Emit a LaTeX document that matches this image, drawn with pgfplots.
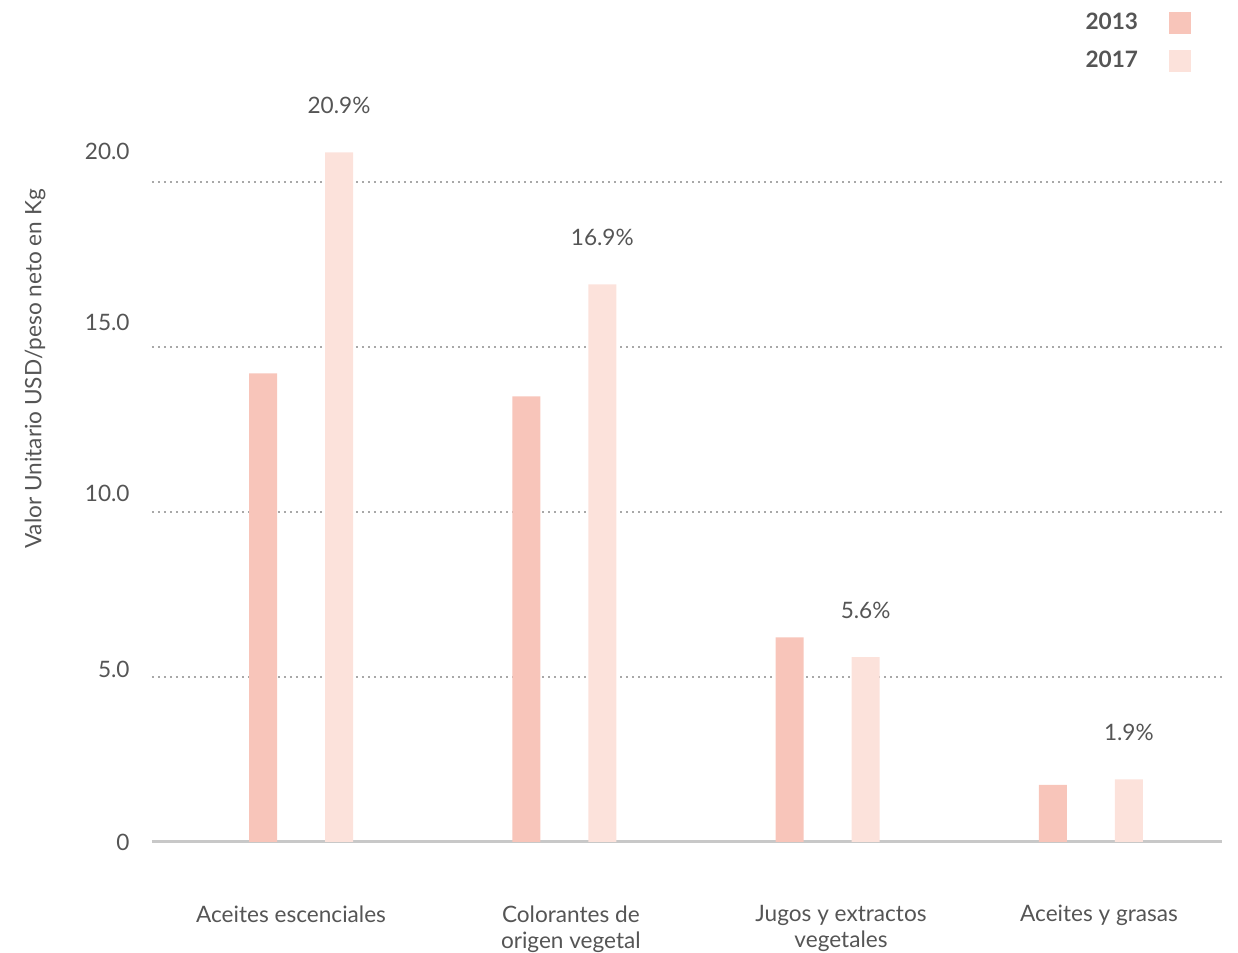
\documentclass[border=0pt]{standalone}
\usepackage{fontspec}
\setmainfont{Lato}
\usepackage{pgfplots}
\pgfplotsset{compat=1.18}

\definecolor{bar13}{HTML}{F8C5BA}
\definecolor{bar17}{HTML}{FCE2DB}
\definecolor{txt}{HTML}{555555}
\definecolor{gridc}{HTML}{A8A8A8}
\definecolor{basec}{HTML}{C8C8C8}

\newcommand{\lbl}{\fontsize{11.3}{13}\selectfont}

\begin{document}
\begin{tikzpicture}
\begin{axis}[
  scale only axis,
  width=535pt, height=421pt,
  xmin=-0.566, xmax=3.498,
  ymin=0, ymax=25.515,
  ybar, bar width=14pt,
  /pgf/number format/assume math mode=true,
  axis x line*=bottom, axis y line*=left,
  y axis line style={draw=none},
  x axis line style={draw=basec, line width=1.5pt},
  major tick length=0pt,
  xtick={-0.038,1.025,2.051,3.031},
  xticklabels={Aceites escenciales, Colorantes de\\origen vegetal, Jugos y extractos\\vegetales, Aceites y grasas},
  xticklabel style={anchor=north, inner sep=0pt, yshift=-31.5pt, align=center,
    font=\lbl, text=txt},
  ytick={0,5.24,10.55,15.76,20.94},
  yticklabels={0,5.0,10.0,15.0,20.0},
  yticklabel style={anchor=east, inner sep=0pt, xshift=-11pt,
    font=\lbl, text=txt},
  extra y ticks={5,10,15,20},
  extra y tick labels={},
  extra y tick style={grid=major,
    major grid style={draw=gridc, line width=1pt, dash pattern=on 1pt off 2pt}},
  ylabel={Valor Unitario USD/peso neto en Kg},
  every axis y label/.style={at={(axis description cs:-0.1093,0.5618)}, rotate=90,
    anchor=center, font=\lbl, text=txt},
  legend plot pos=right,
  legend cell align=right,
  legend image code/.code={\fill[#1] (0pt,-5.5pt) rectangle (11pt,5.5pt);},
  legend style={at={(rel axis cs:0.971,0.9857)}, anchor=north east,
    draw=none, fill=none, inner sep=0pt, outer sep=0pt,
    row sep=8pt, column sep=15.5pt,
    nodes={inner sep=0pt, outer sep=0pt},
    font=\lbl\bfseries, text=txt},
  clip=false,
]
% 2013
\addplot[fill=bar13, draw=none, bar shift=-19pt] coordinates {
  (0,14.2) (1,13.5) (2,6.2) (3,1.73)
};
\addlegendentry{2013}
% 2017, labelled with its value
\addplot[fill=bar17, draw=none, bar shift=19pt,
  nodes near coords={\pgfmathprintnumber[fixed,precision=1,fixed zerofill]{\pgfplotspointmeta}\%},
  every node near coord/.append style={anchor=center, yshift=23.5pt,
    font=\lbl, text=txt}] coordinates {
  (0,20.9) (1,16.9) (2,5.6) (3,1.9)
};
\addlegendentry{2017}
\end{axis}
\pgfresetboundingbox
\path[use as bounding box] (-76pt,-55.5pt) rectangle (543pt,421pt);
\end{tikzpicture}
\end{document}
